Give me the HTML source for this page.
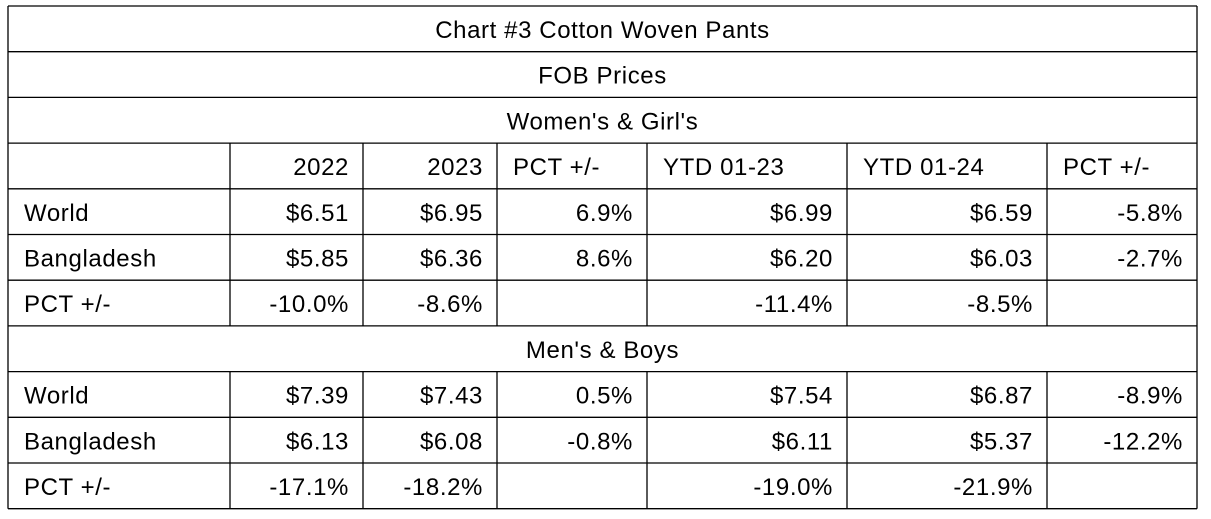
<!DOCTYPE html>
<html><head><meta charset="utf-8"><style>
html,body{margin:0;padding:0;background:#fff;}
svg{display:block;font-family:"Liberation Sans","DejaVu Sans",sans-serif;}
text{font-size:24px;fill:#000;letter-spacing:0.6px;}
</style></head><body>
<svg id="t" width="1211" height="519" viewBox="0 0 1211 519"></svg>
<script>
const rowsY=[6,51.7,97.4,143.1,188.8,234.5,280.2,325.9,371.6,417.3,463,508.7];
const colsX=[8,230,363,497,647,847,1047,1197];
const headers=["","2022","2023","PCT +/-","YTD 01-23","YTD 01-24","PCT +/-"];
const womenWorld=["World","$6.51","$6.95","6.9%","$6.99","$6.59","-5.8%"];
const womenBd=["Bangladesh","$5.85","$6.36","8.6%","$6.20","$6.03","-2.7%"];
const womenPct=["PCT +/-","-10.0%","-8.6%","","-11.4%","-8.5%",""];
const menWorld=["World","$7.39","$7.43","0.5%","$7.54","$6.87","-8.9%"];
const menBd=["Bangladesh","$6.13","$6.08","-0.8%","$6.11","$5.37","-12.2%"];
const menPct=["PCT +/-","-17.1%","-18.2%","","-19.0%","-21.9%",""];
const svg=document.getElementById('t');
const NS='http://www.w3.org/2000/svg';
function line(x1,y1,x2,y2,name){const l=document.createElementNS(NS,'line');
l.setAttribute('x1',x1);l.setAttribute('y1',y1);l.setAttribute('x2',x2);l.setAttribute('y2',y2);
l.setAttribute('stroke','#000');l.setAttribute('stroke-width','1.3');


svg.appendChild(l);}
function txt(x,y,s,anchor,name){const t=document.createElementNS(NS,'text');
t.setAttribute('x',x);t.setAttribute('y',y);t.setAttribute('text-anchor',anchor);t.textContent=s;


svg.appendChild(t);}
const W0=colsX[0],W1=colsX[7];
rowsY.forEach((y,i)=>line(W0,y,W1,y,'row-border'));
line(W0,rowsY[0],W0,rowsY[11],'left-border');
line(W1,rowsY[0],W1,rowsY[11],'right-border');
const gridRows=[3,4,5,6,8,9,10];
gridRows.forEach(r=>{for(let c=1;c<7;c++)line(colsX[c],rowsY[r],colsX[c],rowsY[r+1],'column-border');});
const mid=(W0+W1)/2;
function base(r){return rowsY[r]+32;}
txt(mid,base(0),"Chart #3 Cotton Woven Pants","middle",'table-title');
txt(mid,base(1),"FOB Prices","middle",'subtitle');
txt(mid,base(2),"Women's & Girl's","middle",'section-women');
txt(mid,base(7),"Men's & Boys","middle",'section-men');
function row(r,arr,name){arr.forEach((s,c)=>{if(!s)return;
 const left=(c===0)||(r===3&&(c===3||c===4||c===5||c===6)&&false);
 if(c===0)txt(colsX[0]+16,base(r),s,'start',name+'-label');
 else if(r===3&&c>=3)txt(colsX[c]+16,base(r),s,'start',name+'-cell');
 else txt(colsX[c+1]-14,base(r),s,'end',name+'-cell');});}
row(3,headers,'header');
row(4,womenWorld,'women-world');
row(5,womenBd,'women-bangladesh');
row(6,womenPct,'women-pct');
row(8,menWorld,'men-world');
row(9,menBd,'men-bangladesh');
row(10,menPct,'men-pct');
</script>
</body></html>
